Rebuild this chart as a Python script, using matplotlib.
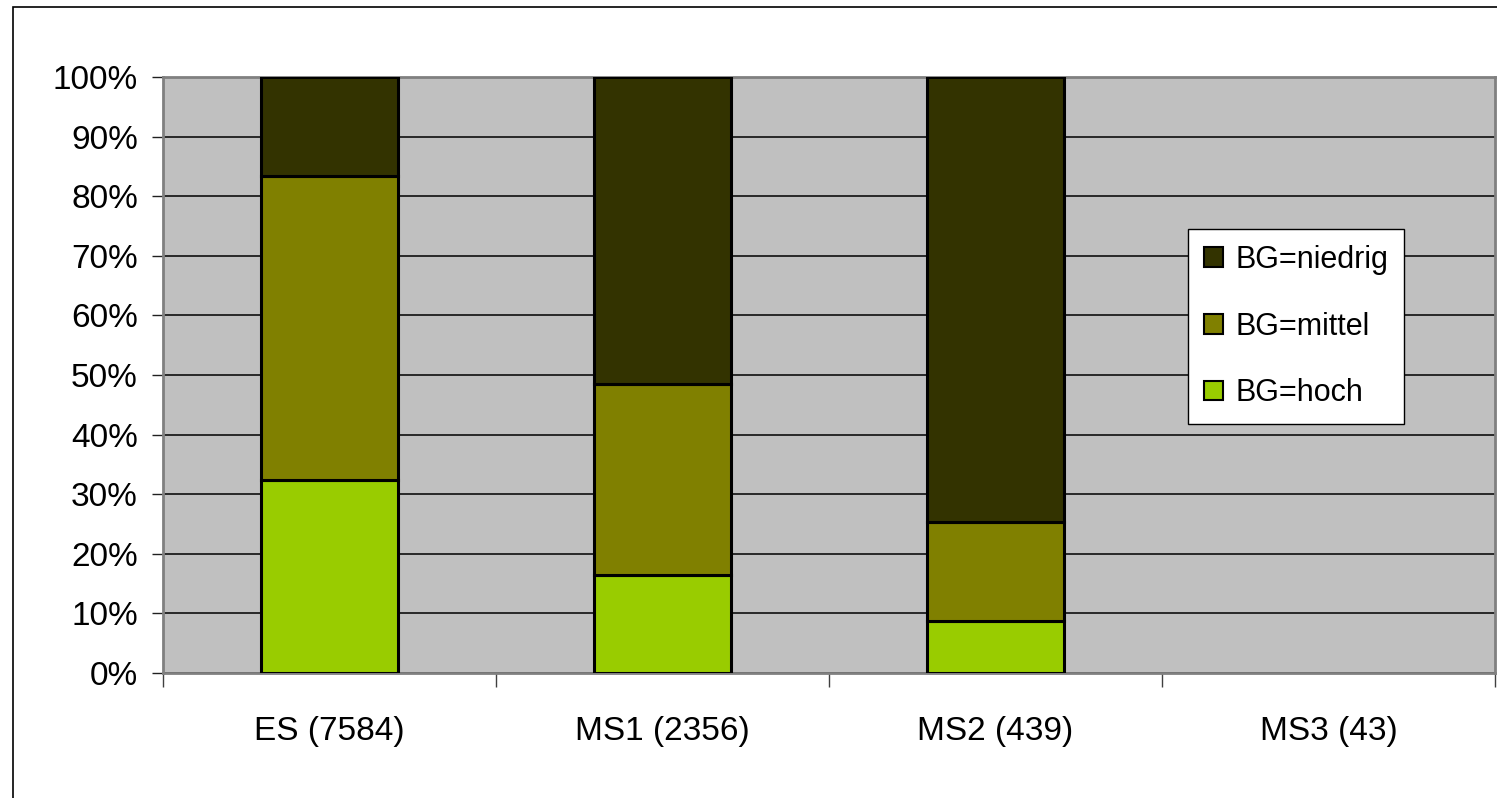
import matplotlib
matplotlib.use("Agg")
import matplotlib.pyplot as plt
import numpy as np
from matplotlib.patches import Patch, Rectangle
from matplotlib.ticker import FixedLocator, PercentFormatter

# data (percent shares per school type)
categories = ["ES (7584)", "MS1 (2356)", "MS2 (439)", "MS3 (43)"]
hoch = [32.4, 16.4, 8.7, 0.0]
mittel = [51.0, 32.1, 16.6, 0.0]
niedrig = [16.6, 51.5, 74.7, 0.0]

series_names = ["BG=hoch", "BG=mittel", "BG=niedrig"]
colors = ["#99CC00", "#808000", "#333300"]

plt.rcParams["font.family"] = ["Liberation Sans", "DejaVu Sans"]

fig = plt.figure(figsize=(14.97, 7.98), dpi=100)
ax = fig.add_axes([163 / 1497, 1 - 673 / 798, (1495 - 163) / 1497, (673 - 77) / 798])

# outer chart border (only left and top visible)
fig.patches.append(Rectangle((13 / 1497, -0.1), 1.2, 1 - 7 / 798 + 0.1,
                             transform=fig.transFigure, fill=False,
                             edgecolor="black", linewidth=1.2))

x = np.arange(len(categories))
bottom = np.zeros(len(categories))
for vals, name, col in zip([hoch, mittel, niedrig], series_names, colors):
    vals = np.array(vals)
    keep = vals > 0  # empty segments are not drawn
    ax.bar(x[keep], vals[keep], 0.41, bottom=bottom[keep], color=col,
           edgecolor="black", linewidth=2.2, label=name, zorder=3)
    bottom += vals

ax.set_facecolor("#C0C0C0")
ax.set_xlim(-0.5, len(categories) - 0.5)
ax.set_ylim(0, 100)
ax.set_yticks(np.arange(0, 101, 10))
ax.yaxis.set_major_formatter(PercentFormatter(decimals=0))
ax.yaxis.grid(True, color="black", linewidth=1.1)
ax.set_axisbelow(True)

ax.xaxis.set_major_locator(FixedLocator(np.arange(-0.5, len(categories), 1.0)))
ax.xaxis.set_major_formatter(plt.NullFormatter())
ax.set_xticks(x, minor=True)
ax.set_xticklabels(categories, minor=True)
ax.tick_params(axis="x", which="major", length=10, width=1, color="#404040")
ax.tick_params(axis="x", which="minor", length=0, pad=31, labelsize=24)
ax.tick_params(axis="y", length=8, width=1, color="#202020", pad=10, labelsize=24)

for sp in ax.spines.values():
    sp.set_color("#808080")
    sp.set_linewidth(2)

handles = [Patch(facecolor=c, edgecolor="black", linewidth=1.5) for c in colors[::-1]]
leg = fig.legend(handles, series_names[::-1], loc="upper left",
                 bbox_to_anchor=(1188 / 1497, 1 - 229 / 798), borderaxespad=0,
                 fontsize=22, frameon=True, fancybox=False, framealpha=1,
                 edgecolor="black", handlelength=0.62, handleheight=0.62,
                 handletextpad=0.4, labelspacing=1.2, borderpad=0.52)
leg.get_frame().set_linewidth(1)

fig.savefig("out.png", dpi=100)
